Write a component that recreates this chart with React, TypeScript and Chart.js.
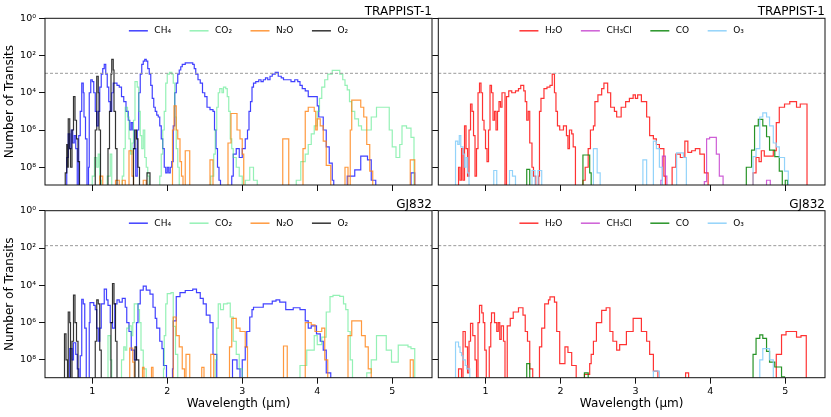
import React, { useEffect, useRef } from 'react';
import { Chart, registerables } from 'chart.js';

Chart.register(...registerables);

type Pt = [number, number];

// below the bottom of the axis: band not detectable
const OFF = 1e12;

const X_MIN = 0.37;
const X_MAX = 5.53;
const X_TICKS = [1, 2, 3, 4, 5];
const Y_MIN = 1;
const Y_MAX = 9e8;
const Y_TICKS = [1, 1e2, 1e4, 1e6, 1e8];
const Y_TICK_LABELS = ['10⁰', '10²', '10⁴', '10⁶', '10⁸'];

// dashed line: transits available
const TRAPPIST_LIMIT = 900;
const GJ832_LIMIT = 75;

const SPECIES_A = ['CH₄', 'CO₂', 'N₂O', 'O₂'];
const SPECIES_B = ['H₂O', 'CH₃Cl', 'CO', 'O₃'];

// ---- TRAPPIST-1 ----
const ch4Trappist: Pt[] = [
  [0.64, OFF], [0.66, 3e7], [0.68, 1.6e6], [0.70, 1e7], [0.72, 1e6], [0.74, 5e6], [0.76, 2e6], [0.78, 1e7],
  [0.80, OFF], [0.82, 2e6], [0.84, 1e5], [0.86, 3e3], [0.88, 1e4], [0.89, 2e5], [0.91, 3e6], [0.93, OFF],
  [0.95, 1e8], [0.96, 1e4], [0.98, 2e3], [1.00, 2.5e3], [1.02, 1e4], [1.04, 1e5], [1.06, 6e5], [1.08, 1e5],
  [1.10, 5e3], [1.12, 1e3], [1.14, 5e2], [1.16, 3e2], [1.18, 1e3], [1.20, 5e3], [1.22, 3e4], [1.24, 1e5],
  [1.26, 1e4], [1.28, 3e3], [1.33, 4e3], [1.36, 5e3], [1.39, 1.6e4], [1.42, 3e4], [1.45, 1e5], [1.48, 3e5],
  [1.50, 1e6], [1.52, 4e5], [1.54, 1e6], [1.56, 1e7], [1.58, 3e8], [1.60, 1e6], [1.62, 1e4], [1.64, 1e3],
  [1.66, 3e2], [1.68, 2e2], [1.70, 1.6e2], [1.72, 2e2], [1.74, 5e2], [1.76, 1e3], [1.78, 4e3], [1.80, 2e4],
  [1.82, 6e4], [1.84, 1e5], [1.86, 1.6e5], [1.88, 2e5], [1.90, 6e5], [1.92, 3e6], [1.94, 1e7], [1.96, 1e8],
  [1.98, 2e8], [2.00, 1e8], [2.02, 2e8], [2.04, 1e8], [2.06, 5e7], [2.08, 6e5], [2.10, 1e4], [2.12, 3e3],
  [2.14, 1e3], [2.16, 6e2], [2.18, 4e2], [2.20, 3e2], [2.24, 2.5e2], [2.30, 2.5e2], [2.34, 3e2], [2.36, 5e2],
  [2.38, 1e3], [2.41, 2e3], [2.44, 3e3], [2.47, 1e4], [2.50, 1.6e4], [2.53, 6e4], [2.57, 8e4], [2.61, 1e5],
  [2.63, 1e6], [2.65, 1e7], [2.67, 1e8], [2.69, 5e8], [2.71, OFF], [2.86, 3e8], [2.88, 2e7], [2.92, 1e7],
  [2.96, 3e7], [3.00, 1e7], [3.04, 3e6], [3.07, 1e6], [3.09, 1e5], [3.11, 3e4], [3.13, 5e3], [3.15, 3e3],
  [3.18, 2.5e3], [3.22, 2e3], [3.25, 2.5e3], [3.28, 2e3], [3.31, 1.6e3], [3.34, 2e3], [3.37, 1.3e3],
  [3.40, 1e3], [3.44, 8e2], [3.48, 1.3e3], [3.52, 1.6e3], [3.55, 2e3], [3.60, 2e3], [3.65, 2.5e3], [3.70, 2e3],
  [3.74, 2.5e3], [3.77, 4e3], [3.80, 6e3], [3.84, 8e3], [3.88, 1.6e4], [4.00, 5e4], [4.02, 2e5], [4.08, 1e6],
  [4.12, 8e6], [4.16, 6e7], [4.20, 5e8], [4.22, OFF], [4.40, 3e8], [4.50, 1.4e8], [4.58, 2.5e7], [4.67, 4e7],
  [4.72, 5e8], [4.78, OFF], [5.25, 2e8], [5.30, OFF],
];

const co2Trappist: Pt[] = [
  [0.98, OFF], [1.00, 3e8], [1.03, 3e7], [1.06, 1e8], [1.08, 2e7], [1.10, 5e8], [1.12, OFF], [1.20, 3e8],
  [1.24, 2e7], [1.26, OFF], [1.40, 3e8], [1.42, 1e7], [1.44, 6e4], [1.47, 2e5], [1.49, 3e6], [1.51, 2e7],
  [1.53, 5e6], [1.55, 3e5], [1.57, 2.5e3], [1.60, 5e3], [1.62, 1e5], [1.64, 2e6], [1.66, 1e7], [1.68, 1e6],
  [1.70, 3e7], [1.72, 1e8], [1.74, 3e8], [1.76, OFF], [1.90, 3e8], [1.92, 2e7], [1.94, 1e6], [1.96, 1e5],
  [1.98, 3e3], [2.00, 1e3], [2.03, 8e2], [2.06, 1e3], [2.08, 3e3], [2.10, 2e5], [2.12, 1e7], [2.14, 1e8],
  [2.16, OFF], [2.58, 3e8], [2.62, 2e7], [2.64, 1e6], [2.66, 6e4], [2.68, 1e4], [2.70, 6e3], [2.73, 1e4],
  [2.75, 5e3], [2.78, 6e3], [2.80, 1.6e4], [2.82, 1e5], [2.84, 3e6], [2.86, 1e7], [2.88, 3e7], [2.92, 1e8],
  [2.96, 3e8], [3.00, OFF], [3.04, 5e8], [3.10, 1e8], [3.15, 5e8], [3.20, OFF], [3.72, 5e8], [3.78, 5e7],
  [3.84, 2e7], [3.88, 6e6], [3.92, 1.6e6], [3.96, 6e5], [4.00, 1e5], [4.03, 2e4], [4.06, 5e3], [4.10, 2e3],
  [4.14, 1e3], [4.20, 6.3e2], [4.26, 6.3e2], [4.30, 1e3], [4.34, 2e3], [4.37, 4e3], [4.40, 7e3], [4.43, 3e4],
  [4.46, 1e5], [4.50, 2.5e5], [4.55, 6e5], [4.59, 1e6], [4.66, 1e6], [4.72, 2e5], [4.79, 6e4], [4.96, 1e6],
  [5.00, 8e6], [5.05, 3e7], [5.10, 6e6], [5.13, 6e5], [5.19, 8e5], [5.25, 2.5e6], [5.29, OFF],
];

const n2oTrappist: Pt[] = [
  [1.09, OFF], [1.10, 3e8], [1.14, OFF], [1.31, 5e8], [1.36, OFF], [1.40, 5e8], [1.44, OFF], [1.49, 1.3e7],
  [1.53, 3e8], [1.55, OFF], [1.68, 5e8], [1.72, OFF], [2.07, 1e6], [2.09, 5e4], [2.12, 1e6], [2.14, 3e6],
  [2.17, 5e7], [2.19, 3e8], [2.21, OFF], [2.24, 1.3e7], [2.30, OFF], [2.57, 4e7], [2.61, OFF], [2.81, 5e6],
  [2.85, 1.3e5], [2.93, 1e6], [2.97, 3e6], [3.00, 2e7], [3.02, OFF], [3.54, 3e6], [3.62, OFF], [3.81, 1e7],
  [3.84, 1e5], [3.88, 6e4], [3.96, 1e5], [3.98, 1e6], [4.00, 2.5e5], [4.04, 6e5], [4.08, 4e6], [4.12, 8e7],
  [4.18, OFF], [4.37, 1e8], [4.41, OFF], [4.44, 1e6], [4.46, 2.5e4], [4.58, 6e4], [4.62, 2e5], [4.66, 6e6],
  [4.70, 1.6e8], [4.74, OFF], [5.24, 4e7], [5.30, OFF],
];

const o2Trappist: Pt[] = [
  [0.63, OFF], [0.64, 2e8], [0.66, 6e6], [0.67, 1e8], [0.68, 2.5e5], [0.70, 1e7], [0.71, 1e8], [0.73, 1e6],
  [0.75, 1.6e4], [0.77, 3e5], [0.79, 3e6], [0.81, 5e7], [0.83, OFF], [1.04, 1e6], [1.06, 1.3e3], [1.08, 1e4],
  [1.09, 1e6], [1.11, OFF], [1.21, 1e7], [1.23, 1e5], [1.25, 1e3], [1.26, 1.6e2], [1.28, 6e2], [1.29, 1e5],
  [1.31, 1e7], [1.33, OFF], [1.55, 1e7], [1.57, 1e6], [1.59, 3e6], [1.61, 1e8], [1.63, OFF], [1.73, 2e8],
  [1.77, OFF],
];

const h2oTrappist: Pt[] = [
  [0.63, OFF], [0.64, 1e8], [0.66, 5e8], [0.68, 1e7], [0.70, 5e8], [0.72, 6e5], [0.74, 1e7], [0.76, 3e8],
  [0.78, 1e6], [0.80, 4e4], [0.82, 1e5], [0.84, 2e6], [0.86, 3e8], [0.88, 1e7], [0.90, 1e4], [0.92, 3e3],
  [0.94, 1e4], [0.96, 3e5], [0.98, 1e6], [1.00, 1e7], [1.02, 5e7], [1.04, 1e6], [1.06, 4e3], [1.08, 1e4],
  [1.10, 3e5], [1.12, 1e5], [1.14, 1e6], [1.16, 1e5], [1.18, 3e4], [1.20, 6e4], [1.22, 1e4], [1.26, OFF],
  [1.28, 1.6e4], [1.31, 8e3], [1.35, 1e4], [1.40, 8e3], [1.44, 6e3], [1.47, 4e3], [1.51, 8e3], [1.53, 3e4],
  [1.55, 3e5], [1.57, 1e5], [1.59, 5e6], [1.62, 1e8], [1.64, 3e8], [1.67, OFF], [1.71, 3e8], [1.72, 1e5],
  [1.74, 2e4], [1.78, 6e3], [1.82, 5e3], [1.86, 4e3], [1.89, 1e3], [1.92, 1e4], [1.94, 1e5], [1.96, 6e5],
  [1.99, 1e6], [2.04, 6e5], [2.08, 2e6], [2.10, 1e7], [2.12, 1e6], [2.15, 1.6e6], [2.17, 8e6], [2.20, OFF],
  [2.30, 5e8], [2.33, 1e8], [2.37, 1e7], [2.40, 1e6], [2.44, 6e5], [2.46, 3e4], [2.50, 1.3e4], [2.55, 6e3],
  [2.58, 3e3], [2.63, 1e4], [2.67, 6e4], [2.72, 1e5], [2.75, 2e5], [2.81, 6e4], [2.87, 3e4], [2.92, 2e4],
  [2.97, 1.3e4], [3.00, 2e4], [3.03, 1.3e4], [3.08, 3e4], [3.15, 2e5], [3.19, 2e6], [3.24, 3e6], [3.28, 6e6],
  [3.32, 1e7], [3.38, 3e8], [3.40, OFF], [3.49, 1e8], [3.54, 2e7], [3.60, 3e7], [3.66, 4e6], [3.70, 1.6e7],
  [3.75, 1.3e7], [3.80, 1e7], [3.86, 2e7], [3.92, 2e8], [3.97, OFF], [4.57, 2e8], [4.61, 3e7], [4.65, 5e7],
  [4.68, 1.3e7], [4.72, 2.5e7], [4.84, 1.3e7], [4.88, 4e5], [4.92, 6e4], [4.99, 4e4], [5.06, 3e4],
  [5.15, 6e4], [5.20, 4e4], [5.29, OFF],
];

const ch3clTrappist: Pt[] = [
  [3.33, OFF], [3.34, 5e8], [3.36, 2.5e7], [3.40, 3e8], [3.42, OFF], [3.92, 6e8], [3.95, 3e6], [3.99, 2.5e6],
  [4.08, 2e7], [4.12, 3e8], [4.17, OFF], [4.75, 5e8], [4.80, OFF],
];

const coTrappist: Pt[] = [
  [1.54, OFF], [1.55, 1.3e8], [1.59, OFF], [2.30, 2.2e7], [2.39, 2e8], [2.41, OFF], [4.48, 1e8], [4.55, 1.2e7],
  [4.59, 6e5], [4.64, 2.7e5], [4.70, 6e5], [4.75, 2.3e6], [4.79, 1.2e7], [4.86, 2.7e7], [4.92, 1.6e8],
  [4.96, OFF], [5.00, 5e8], [5.03, OFF],
];

const o3Trappist: Pt[] = [
  [0.59, OFF], [0.60, 4e6], [0.63, 6e6], [0.65, 2e6], [0.67, 8e6], [0.70, 2e7], [0.72, 1e8], [0.74, 3e7],
  [0.76, 2e8], [0.78, OFF], [1.11, 1.5e8], [1.15, OFF], [1.32, 1.5e8], [1.36, 3e8], [1.40, OFF], [1.62, 1.5e8],
  [1.66, OFF], [1.70, 1.5e8], [1.75, OFF], [2.44, 1e7], [2.49, 2e8], [2.53, OFF], [3.10, 4e7], [3.15, OFF],
  [3.24, 4e6], [3.28, 1e7], [3.32, 1e8], [3.36, OFF], [3.55, 1.7e7], [3.64, 3e7], [3.68, OFF], [4.57, 2.7e7],
  [4.61, 1e7], [4.66, 2e5], [4.70, 1.2e5], [4.75, 2e5], [4.79, 6e5], [4.84, 5e6], [4.88, 8e6], [4.92, 3e7],
  [4.99, 1.6e8], [5.04, OFF],
];

// ---- GJ832 ----
const ch4Gj: Pt[] = [
  [0.69, OFF], [0.70, 2.5e7], [0.73, 1e8], [0.75, 1.2e7], [0.78, 5e7], [0.80, 3e8], [0.82, OFF], [0.84, 6e7],
  [0.86, 5.6e4], [0.88, 1e5], [0.90, 2e6], [0.92, OFF], [0.96, 1e6], [0.97, 8.5e4], [1.02, 1.2e5], [1.04, 2e5],
  [1.06, 2e6], [1.08, 1e7], [1.10, 2e6], [1.12, 1e5], [1.16, 1.6e4], [1.19, 6e4], [1.21, 1.2e5], [1.24, 1e6],
  [1.27, 2e6], [1.30, 1e5], [1.33, 6e4], [1.36, 8e4], [1.40, 5e4], [1.44, 1.5e5], [1.46, 1e6], [1.49, 3e6],
  [1.52, 3e7], [1.56, 1e8], [1.59, 1e6], [1.61, 1e5], [1.64, 1.8e4], [1.68, 1.1e4], [1.72, 1.8e4], [1.77, 3e4],
  [1.81, 1.5e5], [1.84, 6e5], [1.86, 2e6], [1.90, 1e7], [1.93, 2.5e7], [1.95, 2e8], [1.99, OFF], [2.07, 3e8],
  [2.08, 8e5], [2.12, 4e4], [2.17, 2.5e4], [2.24, 1.9e4], [2.34, 1.6e4], [2.39, 2.5e4], [2.44, 5e4],
  [2.48, 1e5], [2.52, 4e5], [2.57, 1e6], [2.61, 5e7], [2.66, OFF], [2.87, 1e8], [2.93, 3e8], [2.97, OFF],
  [3.00, 1e8], [3.04, 2e7], [3.06, 3e6], [3.10, 5e5], [3.13, 2e5], [3.15, 1.5e5], [3.28, 1e5], [3.40, 7e4],
  [3.45, 6e4], [3.50, 8e4], [3.58, 2e5], [3.68, 1.6e5], [3.77, 2e5], [3.84, 8e5], [3.88, 2e6], [3.92, 1.5e6],
  [3.99, 4e6], [4.04, 1e7], [4.08, 3e7], [4.12, 5e8], [4.18, OFF],
];

const co2Gj: Pt[] = [
  [1.20, OFF], [1.21, 5e6], [1.24, 1e8], [1.26, OFF], [1.39, 1e8], [1.42, 2e7], [1.44, 3e7], [1.46, 2e6],
  [1.49, 1.5e6], [1.52, 5e6], [1.54, 1e6], [1.56, 1e5], [1.58, 1e5], [1.61, 2e5], [1.63, 1e6], [1.65, 3e7],
  [1.68, 3e8], [1.72, OFF], [1.95, 3e8], [1.96, 5e6], [1.98, 1e5], [2.00, 2.8e4], [2.05, 2.5e4], [2.08, 1.6e6],
  [2.11, 5e7], [2.14, OFF], [2.64, 1e8], [2.66, 2e6], [2.68, 1e5], [2.71, 2e5], [2.75, 1e5], [2.80, 9e4],
  [2.84, 5e5], [2.88, 1e7], [2.92, 5e7], [2.96, 3e8], [3.00, OFF], [3.77, 2e8], [3.86, 3e7], [3.96, 5e6],
  [4.00, 1.5e7], [4.06, 6e6], [4.12, 2.7e5], [4.17, 4e4], [4.21, 3.5e4], [4.30, 3.9e4], [4.35, 1e5],
  [4.38, 2e5], [4.41, 3e6], [4.44, 1e8], [4.47, OFF], [4.66, 5e8], [4.72, 1e8], [4.79, 5e6], [4.92, 3e7],
  [4.99, 1.3e8], [5.08, 1.6e7], [5.21, 2e7], [5.25, 2.5e7], [5.30, OFF],
];

const n2oGj: Pt[] = [
  [1.49, OFF], [1.50, 2.3e7], [1.54, 1.3e8], [1.56, OFF], [1.67, 2.5e8], [1.69, OFF], [1.79, 2.5e8], [1.81, OFF],
  [2.08, 5e5], [2.12, 5e6], [2.16, 2e7], [2.20, 3e8], [2.23, OFF], [2.25, 5e7], [2.30, OFF], [2.46, 2.5e8],
  [2.49, OFF], [2.58, 5e7], [2.62, OFF], [2.83, 2e7], [2.86, 6e5], [2.92, 2e6], [2.97, 3e6], [3.04, 2e7],
  [3.07, OFF], [3.55, 1.8e7], [3.60, OFF], [3.84, 1e6], [3.92, 1.3e6], [3.97, 3e6], [4.06, 2e6], [4.10, 1e8],
  [4.14, OFF], [4.41, 5e6], [4.46, 8e5], [4.59, 5e6], [4.64, 2e7], [4.68, 3e8], [4.72, OFF], [5.24, 1e8],
  [5.28, OFF],
];

const o2Gj: Pt[] = [
  [0.62, OFF], [0.63, 4e6], [0.65, 1e8], [0.67, OFF], [0.68, 2.7e5], [0.70, 1e6], [0.71, OFF], [0.73, 1e7],
  [0.75, 3.4e4], [0.77, 1e6], [0.79, 1e7], [0.81, OFF], [1.04, 1e7], [1.06, 6e4], [1.08, 1e5], [1.10, 3e7],
  [1.12, OFF], [1.25, 1e6], [1.27, 8e3], [1.29, 1e5], [1.31, 1e7], [1.33, OFF], [1.57, 2e7], [1.59, 1e8],
  [1.62, OFF],
];

const h2oGj: Pt[] = [
  [0.63, OFF], [0.64, 3e8], [0.68, OFF], [0.70, 3e6], [0.73, 2e7], [0.76, 5e8], [0.78, 1e7], [0.80, 1.1e6],
  [0.83, 5e6], [0.86, 1e8], [0.88, OFF], [0.90, 1e6], [0.92, 1.2e5], [0.95, 3e5], [0.97, 1e6], [0.99, 3e7],
  [1.01, OFF], [1.05, 2e7], [1.07, 1e6], [1.08, 3e5], [1.12, 1e6], [1.15, 3e6], [1.17, 1e6], [1.19, 8e6],
  [1.21, 1.5e6], [1.24, 1e7], [1.26, OFF], [1.29, 1.5e6], [1.33, 6e5], [1.37, 2.7e5], [1.44, 1.6e5],
  [1.50, 4e5], [1.53, 3e6], [1.56, 1e7], [1.59, 3e8], [1.63, OFF], [1.72, 2e7], [1.75, 2e6], [1.79, 1e5],
  [1.84, 6e4], [1.86, 4.2e4], [1.92, 8e4], [1.95, 3e6], [1.99, 1.6e8], [2.06, 2e7], [2.10, 4e7], [2.15, 2e8],
  [2.21, OFF], [2.32, 6e8], [2.39, 1.6e8], [2.41, 5e7], [2.44, 1e7], [2.48, 1e6], [2.55, 2.2e5], [2.61, 1.6e5],
  [2.66, 3e6], [2.70, 1e7], [2.75, 3e7], [2.79, 1.5e7], [2.88, 3e6], [2.97, 6e5], [3.08, 3e6], [3.15, 1e7],
  [3.19, 5e7], [3.24, 4e8], [3.30, OFF], [3.67, 5e8], [3.71, OFF], [4.88, 5e7], [4.95, 4.5e6], [5.01, 3e6],
  [5.15, 6e6], [5.21, 5e6], [5.28, OFF],
];

const ch3clGj: Pt[] = [];

const coGj: Pt[] = [
  [1.54, OFF], [1.55, 1.6e8], [1.59, OFF], [2.32, 5e8], [2.37, OFF], [4.57, 5e7], [4.61, 7e6], [4.66, 4.5e6],
  [4.70, 7e6], [4.75, 3.5e7], [4.79, 1.3e8], [4.86, 2.4e8], [4.95, 8e8], [4.99, OFF],
];

const o3Gj: Pt[] = [
  [0.59, OFF], [0.60, 1.1e7], [0.64, 2e7], [0.66, 4e7], [0.68, 6e7], [0.70, 1e8], [0.73, 2e8], [0.75, 3e8],
  [0.79, OFF], [3.24, 4e8], [3.32, OFF], [4.66, 1e8], [4.70, 2.5e7], [4.79, 1e8], [4.84, OFF],
];

const COLORS_A = ['rgba(0,0,255,0.75)', 'rgba(60,230,120,0.55)', 'rgba(255,127,14,0.8)', 'rgba(0,0,0,0.8)'];
const COLORS_B = ['rgba(255,0,0,0.8)', 'rgba(190,40,200,0.75)', 'rgba(0,128,0,0.85)', 'rgba(135,206,250,0.9)'];

const FONT = 'DejaVu Sans';

type PanelCfg = {
  title: string;
  limit: number;
  labels: string[];
  colors: string[];
  series: Pt[][];
  left: number;
  top: number;
  width: number;
  height: number;
  padTop: number;
  padRight: number;
  yWidth: number;
  xHeight: number;
  xLabels: boolean;
  yLabels: boolean;
};

const PANELS: PanelCfg[] = [
  {
    title: 'TRAPPIST-1', limit: TRAPPIST_LIMIT, labels: SPECIES_A, colors: COLORS_A,
    series: [ch4Trappist, co2Trappist, n2oTrappist, o2Trappist],
    left: 0, top: 0, width: 435, height: 195, padTop: 18.3, padRight: 3, yWidth: 45, xHeight: 10,
    xLabels: false, yLabels: true,
  },
  {
    title: 'TRAPPIST-1', limit: TRAPPIST_LIMIT, labels: SPECIES_B, colors: COLORS_B,
    series: [h2oTrappist, ch3clTrappist, coTrappist, o3Trappist],
    left: 432, top: 0, width: 399, height: 195, padTop: 18.3, padRight: 6, yWidth: 6.3, xHeight: 10,
    xLabels: false, yLabels: false,
  },
  {
    title: 'GJ832', limit: GJ832_LIMIT, labels: SPECIES_A, colors: COLORS_A,
    series: [ch4Gj, co2Gj, n2oGj, o2Gj],
    left: 0, top: 195, width: 435, height: 222, padTop: 15.7, padRight: 3, yWidth: 45, xHeight: 39.3,
    xLabels: true, yLabels: true,
  },
  {
    title: 'GJ832', limit: GJ832_LIMIT, labels: SPECIES_B, colors: COLORS_B,
    series: [h2oGj, ch3clGj, coGj, o3Gj],
    left: 432, top: 195, width: 399, height: 222, padTop: 15.7, padRight: 6, yWidth: 6.3, xHeight: 39.3,
    xLabels: true, yLabels: false,
  },
];

// frame, limit line, title, in-plot legend and axis titles
const decor = (p: PanelCfg) => ({
  id: 'decor',
  afterDraw(chart: any) {
    const { ctx, chartArea: a, scales } = chart;
    ctx.save();

    const yl = scales.y.getPixelForValue(p.limit);
    ctx.strokeStyle = '#9a9a9a';
    ctx.lineWidth = 1;
    ctx.setLineDash([3, 2]);
    ctx.beginPath();
    ctx.moveTo(a.left, yl);
    ctx.lineTo(a.right, yl);
    ctx.stroke();
    ctx.setLineDash([]);

    ctx.strokeStyle = '#111';
    ctx.lineWidth = 1;
    ctx.strokeRect(a.left, a.top, a.right - a.left, a.bottom - a.top);

    ctx.fillStyle = '#000';
    ctx.font = `12px "${FONT}"`;
    ctx.textAlign = 'right';
    ctx.textBaseline = 'alphabetic';
    ctx.fillText(p.title, a.right, a.top - 3);

    ctx.font = `9px "${FONT}"`;
    ctx.textAlign = 'left';
    ctx.textBaseline = 'middle';
    const LINE = 19, GAP = 6.5, SEP = 18.5;
    const widths = p.labels.map((l) => ctx.measureText(l).width);
    const total = widths.reduce((s, w) => s + LINE + GAP + w, 0) + SEP * (widths.length - 1);
    let x = (a.left + a.right) / 2 - total / 2;
    const y = a.top + 12.5;
    p.labels.forEach((l, i) => {
      ctx.strokeStyle = p.colors[i];
      ctx.lineWidth = 1.5;
      ctx.beginPath();
      ctx.moveTo(x, y);
      ctx.lineTo(x + LINE, y);
      ctx.stroke();
      ctx.fillStyle = '#000';
      ctx.fillText(l, x + LINE + GAP, y);
      x += LINE + GAP + widths[i] + SEP;
    });

    ctx.font = `12px "${FONT}"`;
    ctx.textAlign = 'center';
    if (p.yLabels) {
      ctx.save();
      ctx.translate(10, (a.top + a.bottom) / 2);
      ctx.rotate(-Math.PI / 2);
      ctx.fillText('Number of Transits', 0, 0);
      ctx.restore();
    }
    if (p.xLabels) {
      ctx.fillText('Wavelength (µm)', (a.left + a.right) / 2, a.bottom + 26.5);
    }
    ctx.restore();
  },
});

function Panel({ p }: { p: PanelCfg }) {
  const canvasRef = useRef<HTMLCanvasElement>(null);

  useEffect(() => {
    if (!canvasRef.current) return;
    const n = p.series.length;
    const grid = {
      display: true,
      drawOnChartArea: false,
      drawTicks: true,
      tickLength: 6,
      color: '#111',
      tickColor: '#111',
      lineWidth: 1,
    };
    const chart = new Chart(canvasRef.current, {
      type: 'line',
      data: {
        datasets: p.series.map((s, i) => ({
          label: p.labels[i],
          data: s.map(([x, y]) => ({ x, y })),
          borderColor: p.colors[i],
          borderWidth: 1.2,
          pointRadius: 0,
          stepped: true,
          fill: false,
          order: n - i,
        })),
      },
      options: {
        responsive: false,
        animation: false,
        events: [],
        layout: { padding: { top: p.padTop, right: p.padRight, bottom: 0, left: 0 } },
        plugins: { legend: { display: false }, tooltip: { enabled: false } },
        scales: {
          x: {
            type: 'linear',
            min: X_MIN,
            max: X_MAX,
            afterBuildTicks: (s: any) => {
              s.ticks = X_TICKS.map((v) => ({ value: v }));
            },
            afterFit: (s: any) => {
              s.height = p.xHeight;
            },
            grid,
            border: { display: false },
            ticks: {
              display: p.xLabels,
              padding: 2,
              color: '#000',
              maxRotation: 0,
              font: { family: FONT, size: 9.5 },
              callback: (v: any) => String(v),
            },
          },
          y: {
            type: 'logarithmic',
            reverse: true,
            min: Y_MIN,
            max: Y_MAX,
            afterBuildTicks: (s: any) => {
              s.ticks = Y_TICKS.map((v) => ({ value: v }));
            },
            afterFit: (s: any) => {
              s.width = p.yWidth;
            },
            grid,
            border: { display: false },
            ticks: {
              display: p.yLabels,
              padding: 3,
              color: '#000',
              font: { family: FONT, size: 9.5 },
              callback: (v: any) => {
                const k = Y_TICKS.indexOf(Number(v));
                return k >= 0 ? Y_TICK_LABELS[k] : '';
              },
            },
          },
        },
      } as any,
      plugins: [decor(p)],
    });
    return () => chart.destroy();
  }, [p]);

  return (
    <canvas
      ref={canvasRef}
      width={p.width}
      height={p.height}
      style={{ position: 'absolute', left: p.left, top: p.top }}
    />
  );
}

export default function App() {
  return (
    <div style={{ position: 'absolute', left: 0, top: 0, width: 831, height: 417, background: '#fff' }}>
      {PANELS.map((p, i) => (
        <Panel key={i} p={p} />
      ))}
    </div>
  );
}
